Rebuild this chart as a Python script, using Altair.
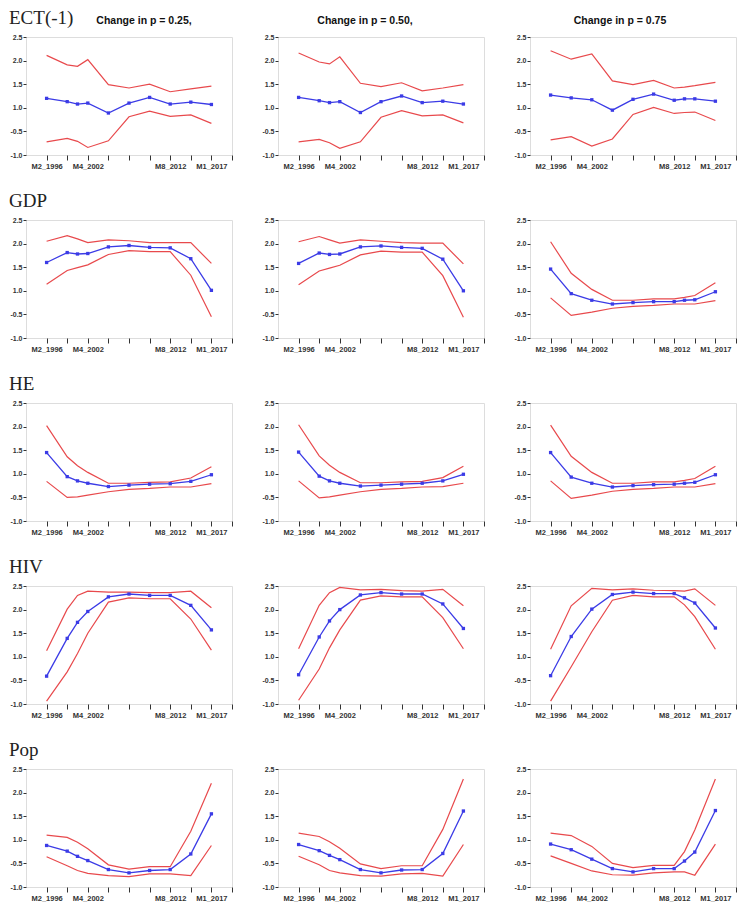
import altair as alt
import pandas as pd

# ---------------- data (y in plot units: 0 -> label "-1.0", 0.5 -> label "-0.5") -------------
ROW_TITLES = ["ECT(-1)", "GDP", "HE", "HIV", "Pop"]
COL_TITLES = ["Change in  p = 0.25,", "Change in p = 0.50,", "Change in p = 0.75"]

Y_TICK_VALUES = [0.0, 0.5, 1.0, 1.5, 2.0, 2.5]
Y_TICK_LABELS = ["-1.0", "-0.5", "1.0", "1.5", "2.0", "2.5"]
X_TICK_VALUES = [0, 1, 2, 3, 4, 5, 6, 7, 8, 9]
X_LABEL_POS = [0, 2, 6, 8]
X_LABELS = ["M2_1996", "M4_2002", "M8_2012", "M1_2017"]

XA = [0, 1, 1.5, 2, 3, 4, 5, 6, 7, 8]
XB = [0, 1, 2, 3, 4, 5, 6, 6.5, 7, 8]

# ECT(-1)
ECT25_MID = [1.20, 1.13, 1.08, 1.10, 0.89, 1.10, 1.22, 1.08, 1.12, 1.07]
ECT25_UP = [2.11, 1.91, 1.88, 2.02, 1.49, 1.42, 1.50, 1.34, 1.40, 1.46]
ECT25_LO = [0.28, 0.35, 0.29, 0.16, 0.30, 0.81, 0.93, 0.82, 0.85, 0.67]
ECT50_MID = [1.22, 1.15, 1.11, 1.13, 0.90, 1.13, 1.25, 1.11, 1.14, 1.08]
ECT50_UP = [2.16, 1.97, 1.93, 2.08, 1.52, 1.45, 1.53, 1.36, 1.42, 1.49]
ECT50_LO = [0.28, 0.33, 0.26, 0.14, 0.28, 0.80, 0.94, 0.83, 0.85, 0.68]
ECT75_MID = [1.27, 1.21, 1.17, 0.95, 1.18, 1.29, 1.16, 1.19, 1.19, 1.14]
ECT75_UP = [2.21, 2.03, 2.14, 1.57, 1.49, 1.58, 1.42, 1.44, 1.47, 1.54]
ECT75_LO = [0.32, 0.39, 0.19, 0.34, 0.86, 1.01, 0.88, 0.90, 0.91, 0.73]

# GDP
GDP25_MID = [1.60, 1.81, 1.78, 1.79, 1.93, 1.96, 1.92, 1.91, 1.68, 1.01]
GDP25_UP = [2.05, 2.17, 2.10, 2.02, 2.08, 2.06, 2.02, 2.02, 2.02, 1.58]
GDP25_LO = [1.14, 1.43, 1.49, 1.55, 1.77, 1.85, 1.83, 1.83, 1.33, 0.45]
GDP50_MID = [1.58, 1.80, 1.77, 1.78, 1.93, 1.95, 1.92, 1.90, 1.67, 1.00]
GDP50_UP = [2.04, 2.15, 2.08, 2.01, 2.08, 2.05, 2.02, 2.01, 2.01, 1.57]
GDP50_LO = [1.13, 1.42, 1.48, 1.54, 1.76, 1.84, 1.82, 1.82, 1.32, 0.44]
GDP75_MID = [1.46, 0.94, 0.80, 0.72, 0.75, 0.77, 0.77, 0.80, 0.81, 0.98]
GDP75_UP = [2.04, 1.37, 1.03, 0.80, 0.80, 0.83, 0.83, 0.86, 0.90, 1.17]
GDP75_LO = [0.85, 0.48, 0.55, 0.63, 0.67, 0.69, 0.72, 0.72, 0.72, 0.79]

# HE
HE25_MID = [1.45, 0.94, 0.85, 0.80, 0.73, 0.76, 0.78, 0.79, 0.84, 0.98]
HE25_UP = [2.02, 1.36, 1.17, 1.03, 0.80, 0.80, 0.82, 0.83, 0.91, 1.15]
HE25_LO = [0.84, 0.50, 0.51, 0.55, 0.62, 0.67, 0.69, 0.72, 0.72, 0.79]
HE50_MID = [1.46, 0.95, 0.85, 0.80, 0.74, 0.76, 0.78, 0.80, 0.85, 0.99]
HE50_UP = [2.04, 1.38, 1.18, 1.03, 0.81, 0.81, 0.83, 0.84, 0.92, 1.16]
HE50_LO = [0.85, 0.49, 0.51, 0.55, 0.62, 0.67, 0.69, 0.72, 0.73, 0.80]
HE75_MID = [1.45, 0.93, 0.80, 0.72, 0.75, 0.77, 0.78, 0.80, 0.82, 0.98]
HE75_UP = [2.03, 1.37, 1.03, 0.80, 0.80, 0.83, 0.83, 0.86, 0.90, 1.16]
HE75_LO = [0.85, 0.48, 0.55, 0.63, 0.67, 0.69, 0.72, 0.72, 0.72, 0.79]

# HIV
HIV25_MID = [0.59, 1.39, 1.73, 1.96, 2.27, 2.33, 2.30, 2.30, 2.09, 1.57]
HIV25_UP = [1.13, 2.01, 2.30, 2.39, 2.37, 2.37, 2.36, 2.36, 2.39, 2.04]
HIV25_LO = [0.06, 0.68, 1.07, 1.50, 2.16, 2.25, 2.23, 2.23, 1.80, 1.14]
HIV50_MID = [0.62, 1.42, 1.76, 2.00, 2.31, 2.36, 2.33, 2.33, 2.12, 1.60]
HIV50_UP = [1.17, 2.09, 2.36, 2.47, 2.42, 2.43, 2.40, 2.39, 2.43, 2.08]
HIV50_LO = [0.08, 0.74, 1.19, 1.57, 2.20, 2.29, 2.27, 2.27, 1.83, 1.17]
HIV75_MID = [0.60, 1.43, 2.01, 2.32, 2.37, 2.34, 2.34, 2.25, 2.14, 1.61]
HIV75_UP = [1.16, 2.08, 2.45, 2.42, 2.44, 2.41, 2.40, 2.39, 2.44, 2.09]
HIV75_LO = [0.06, 0.79, 1.53, 2.20, 2.30, 2.27, 2.27, 2.10, 1.85, 1.16]

# Pop
POP25_MID = [0.88, 0.76, 0.65, 0.56, 0.37, 0.30, 0.35, 0.37, 0.70, 1.55]
POP25_UP = [1.10, 1.05, 0.95, 0.81, 0.47, 0.38, 0.43, 0.43, 1.18, 2.20]
POP25_LO = [0.64, 0.45, 0.35, 0.29, 0.24, 0.22, 0.28, 0.28, 0.24, 0.88]
POP50_MID = [0.90, 0.77, 0.67, 0.58, 0.37, 0.30, 0.36, 0.37, 0.71, 1.61]
POP50_UP = [1.14, 1.07, 0.96, 0.82, 0.49, 0.39, 0.45, 0.45, 1.22, 2.29]
POP50_LO = [0.65, 0.47, 0.35, 0.30, 0.24, 0.23, 0.28, 0.29, 0.23, 0.90]
POP75_MID = [0.91, 0.79, 0.59, 0.39, 0.32, 0.39, 0.39, 0.55, 0.74, 1.62]
POP75_UP = [1.14, 1.09, 0.86, 0.50, 0.41, 0.46, 0.46, 0.75, 1.21, 2.29]
POP75_LO = [0.66, 0.50, 0.34, 0.26, 0.25, 0.30, 0.32, 0.32, 0.25, 0.91]

PANELS = [
    [(XA, ECT25_MID, ECT25_UP, ECT25_LO), (XA, ECT50_MID, ECT50_UP, ECT50_LO), (XB, ECT75_MID, ECT75_UP, ECT75_LO)],
    [(XA, GDP25_MID, GDP25_UP, GDP25_LO), (XA, GDP50_MID, GDP50_UP, GDP50_LO), (XB, GDP75_MID, GDP75_UP, GDP75_LO)],
    [(XA, HE25_MID, HE25_UP, HE25_LO), (XA, HE50_MID, HE50_UP, HE50_LO), (XB, HE75_MID, HE75_UP, HE75_LO)],
    [(XA, HIV25_MID, HIV25_UP, HIV25_LO), (XA, HIV50_MID, HIV50_UP, HIV50_LO), (XB, HIV75_MID, HIV75_UP, HIV75_LO)],
    [(XA, POP25_MID, POP25_UP, POP25_LO), (XA, POP50_MID, POP50_UP, POP50_LO), (XB, POP75_MID, POP75_UP, POP75_LO)],
]

# ---------------- styling ----------------
RED = "#e8494c"
BLUE = "#3b3be6"
W, H = 206, 118
COL_TITLE_X = [118, 87, 90]


def lookup_expr(values, labels, default="''"):
    expr = default
    for v, l in reversed(list(zip(values, labels))):
        expr = f"datum.value == {v} ? '{l}' : ({expr})"
    return expr


x_axis = alt.Axis(values=X_TICK_VALUES, labelExpr=lookup_expr(X_LABEL_POS, X_LABELS),
                  labelFont="Liberation Sans", labelFontSize=7.5, labelFontWeight="bold",
                  labelColor="#333", ticks=True, tickColor="#333", tickSize=5, tickWidth=1,
                  domain=False, grid=False, title=None, labelAngle=0, labelOverlap=False,
                  labelFlush=False, labelPadding=2)
y_axis = alt.Axis(values=Y_TICK_VALUES, labelExpr=lookup_expr(Y_TICK_VALUES, Y_TICK_LABELS),
                  labelFont="Liberation Sans", labelFontSize=7, labelFontWeight="bold",
                  labelColor="#333", ticks=True, tickColor="#333", tickSize=3, tickWidth=1,
                  domain=False, grid=False, title=None, labelOverlap=False, labelFlush=False,
                  labelPadding=1)
x_scale = alt.Scale(domain=[-1, 9], nice=False, zero=False)
y_scale = alt.Scale(domain=[0, 2.5], nice=False, zero=False)


def panel(r, c):
    x, mid, up, lo = PANELS[r][c]
    df = pd.DataFrame({"x": x, "mid": mid, "up": up, "lo": lo})
    base = alt.Chart(df)

    def xe():
        return alt.X("x:Q", scale=x_scale, axis=x_axis)

    def ye(f):
        return alt.Y(f"{f}:Q", scale=y_scale, axis=y_axis)

    up_l = base.mark_line(color=RED, strokeWidth=1.2).encode(x=xe(), y=ye("up"))
    lo_l = base.mark_line(color=RED, strokeWidth=1.2).encode(x=xe(), y=ye("lo"))
    mid_l = base.mark_line(color=BLUE, strokeWidth=1.3,
                           point=alt.OverlayMarkDef(shape="square", size=11, filled=True, color=BLUE)
                           ).encode(x=xe(), y=ye("mid"))
    layers = [up_l, lo_l, mid_l]
    if c == 0:
        layers.append(alt.Chart(pd.DataFrame({"t": [ROW_TITLES[r]]})).mark_text(
            align="left", baseline="alphabetic", font="Liberation Serif", fontSize=19,
            color="#222").encode(text="t:N", x=alt.value(-17), y=alt.value(-13)))
    if r == 0:
        layers.append(alt.Chart(pd.DataFrame({"t": [COL_TITLES[c]]})).mark_text(
            align="center", baseline="middle", font="Liberation Sans", fontSize=10.5,
            fontWeight="bold", color="#111").encode(
            text="t:N", x=alt.value(COL_TITLE_X[c]), y=alt.value(-16)))
    return alt.layer(*layers).properties(width=W, height=H)


charts = [panel(r, c) for r in range(5) for c in range(3)]

chart = alt.concat(*charts, columns=3, spacing={"row": 65, "column": 46}).properties(
    bounds="flush", padding={"left": 0, "top": 0, "right": 0, "bottom": 0}
).configure_view(stroke="#8c8c8c", strokeWidth=1).configure(background="white")

chart.save("out.html", embed_options={"renderer": "svg", "actions": False})
